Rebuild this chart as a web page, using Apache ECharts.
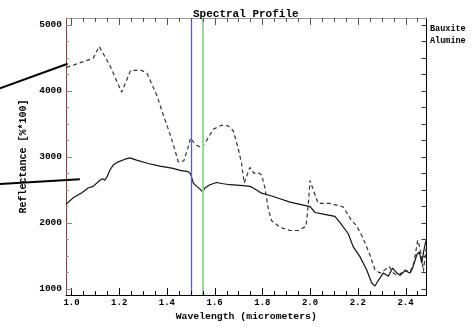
<!DOCTYPE html>
<html><head><meta charset="utf-8">
<script src="https://cdn.jsdelivr.net/npm/echarts@6/dist/echarts.min.js"></script>
<style>html,body{margin:0;padding:0;background:#fff}#c{width:472px;height:327px}</style>
</head><body><div id="c"></div>
<script>
// ---- data ----
const bauxiteW = [0.977,1.007,1.042,1.070,1.091,1.119,1.130,1.140,1.150,1.161,1.175,1.196,1.224,1.245,1.273,1.322,1.371,1.426,1.455,1.489,1.499,1.510,1.525,1.541,1.550,1.559,1.580,1.608,1.636,1.664,1.720,1.748,1.762,1.797,1.832,1.874,1.916,1.958,2.000,2.021,2.055,2.104,2.125,2.160,2.181,2.209,2.237,2.258,2.272,2.286,2.307,2.328,2.346,2.363,2.377,2.398,2.419,2.430,2.447,2.458,2.468,2.478,2.486];
const bauxiteV = [2276,2374,2449,2523,2548,2640,2665,2640,2700,2796,2871,2920,2960,2979,2945,2895,2856,2820,2790,2771,2740,2600,2548,2499,2459,2523,2573,2607,2588,2573,2558,2548,2523,2445,2409,2360,2310,2276,2241,2152,2127,2092,2003,1830,1631,1483,1285,1087,1037,1122,1236,1186,1310,1236,1200,1270,1236,1310,1508,1557,1384,1600,1731];

const alumineW = [0.979,1.091,1.116,1.161,1.210,1.248,1.294,1.317,1.357,1.384,1.413,1.436,1.447,1.471,1.489,1.499,1.517,1.545,1.566,1.594,1.629,1.657,1.678,1.699,1.713,1.724,1.741,1.748,1.765,1.783,1.797,1.811,1.825,1.839,1.874,1.916,1.951,1.983,1.992,2.000,2.013,2.034,2.083,2.139,2.174,2.195,2.223,2.251,2.272,2.293,2.314,2.332,2.349,2.363,2.377,2.398,2.419,2.436,2.451,2.461,2.468,2.475,2.486];
const alumineV = [4350,4490,4669,4380,3975,4306,4306,4257,3935,3637,3340,3068,2920,2934,3142,3281,3192,3128,3242,3414,3474,3465,3391,3118,2895,2597,2771,2835,2746,2756,2722,2523,2202,2028,1928,1879,1879,1943,2251,2637,2499,2291,2291,2236,2028,1954,1756,1508,1285,1236,1285,1334,1236,1200,1220,1280,1250,1400,1731,1607,1459,1260,1600];

const seriesNames = ['Bauxite', 'Alumine'];
const markerWavelengths = [1.50, 1.55];

const xMajor = [1.0, 1.2, 1.4, 1.6, 1.8, 2.0, 2.2, 2.4];
const xMinor = [1.05,1.1,1.15,1.25,1.3,1.35,1.45,1.5,1.55,1.65,1.7,1.75,1.85,1.9,1.95,2.05,2.1,2.15,2.25,2.3,2.35,2.45];
const yMajor = [1000, 2000, 3000, 4000, 5000];
const yMinor = [1250,1500,1750,2250,2500,2750,3250,3500,3750,4250,4500,4750];
const yRight = [1000,1250,1500,1750,2000,2250,2500,2750,3000,3250,3500,3750,4000,4250,4500,4750,5000];

// annotation pointer lines (data coordinates)
const pointer1W = [0.70, 0.984], pointer1V = [4034, 4406];
const pointer2W = [0.70, 1.035], pointer2V = [2582, 2657];

const X_MIN = 0.977, X_MAX = 2.488, Y_MIN = 900, Y_MAX = 5100;

const zip = (a, b) => a.map((v, i) => [v, b[i]]);
const FONT = 'Liberation Mono';

const chart = echarts.init(document.getElementById('c'), null, {renderer: 'canvas'});

const baseX = (pos, lineColor) => ({
  type: 'value', position: pos, min: X_MIN, max: X_MAX,
  splitLine: {show: false}, axisTick: {show: false},
  axisLine: {show: true, onZero: false, lineStyle: {color: lineColor, width: 1}},
  axisLabel: {show: false}
});
const baseY = (pos, lineColor) => ({
  type: 'value', position: pos, min: Y_MIN, max: Y_MAX,
  splitLine: {show: false}, axisTick: {show: false},
  axisLine: {show: true, onZero: false, lineStyle: {color: lineColor, width: 1}},
  axisLabel: {show: false}
});

const xBottom = Object.assign(baseX('bottom', '#000'), {
  axisLabel: {show: true, customValues: xMajor, margin: 3, color: '#000', fontFamily: FONT, fontWeight: 'bold', fontSize: 9,
    formatter: v => Number(v).toFixed(1)},
  name: 'Wavelength (micrometers)', nameLocation: 'middle', nameGap: 11,
  nameTextStyle: {color: '#000', fontFamily: FONT, fontWeight: 'bold', fontSize: 9.8}
});
const yLeft = Object.assign(baseY('left', '#8e3b3b'), {
  axisLabel: {show: true, customValues: yMajor, margin: 4, color: '#000', fontFamily: FONT, fontWeight: 'bold', fontSize: 9.5,
    formatter: v => String(Math.round(v))},
  name: 'Reflectance [%*100]', nameLocation: 'middle', nameGap: 20,
  nameTextStyle: {color: '#000', fontFamily: FONT, fontWeight: 'bold', fontSize: 10}
});

chart.setOption({
  animation: false,
  backgroundColor: '#fff',
  title: {text: 'Spectral Profile', left: 188, top: 4,
    textStyle: {fontFamily: FONT, fontWeight: 'bold', fontSize: 11, color: '#000'}},
  legend: {data: seriesNames, orient: 'vertical', left: 420, top: 19, icon: 'none', itemWidth: 0, itemHeight: 9, itemGap: 3.5,
    textStyle: {fontFamily: FONT, fontWeight: 'bold', fontSize: 8.5, color: '#000'}, selectedMode: false},
  grid: {left: 66, right: 45.5, top: 18, bottom: 26, containLabel: false},
  xAxis: [xBottom, baseX('top', '#999')],
  yAxis: [yLeft, baseY('right', '#000')],
  series: [
    {name: seriesNames[0], type: 'line', data: zip(bauxiteW, bauxiteV), showSymbol: false, symbol: 'none',
      lineStyle: {color: '#111', width: 1.2}, itemStyle: {color: '#111'},
      markLine: {silent: true, symbol: 'none', label: {show: false},
        data: [
          {xAxis: markerWavelengths[0], lineStyle: {color: '#5c5cc0', width: 1.3, type: 'solid'}},
          {xAxis: markerWavelengths[1], lineStyle: {color: '#9ad89a', width: 2, type: 'solid'}}
        ]}},
    {name: seriesNames[1], type: 'line', data: zip(alumineW, alumineV), showSymbol: false, symbol: 'none',
      lineStyle: {color: '#333', width: 1.2, type: [4, 3]}, itemStyle: {color: '#333'}}
  ]
});

// ---- tick marks and pointer lines, placed through the axes' own scales ----
const px = v => chart.convertToPixel({xAxisIndex: 0}, v);
const py = v => chart.convertToPixel({yAxisIndex: 0}, v);
const xL = px(X_MIN), xR = px(X_MAX), yB = py(Y_MIN), yT = py(Y_MAX);
const g = [];
const seg = (x1, y1, x2, y2, color, w) => g.push({type: 'line', silent: true, z: 100,
  shape: {x1, y1, x2, y2}, style: {stroke: color, lineWidth: w || 1}});
xMajor.forEach(v => { const x = Math.round(px(v)) + 0.5; seg(x, yB, x, yB - 7, '#000'); seg(x, yT, x, yT + 7, '#555'); });
xMinor.forEach(v => { const x = Math.round(px(v)) + 0.5; seg(x, yB, x, yB - 4, '#000'); seg(x, yT, x, yT + 4, '#555'); });
yMajor.forEach(v => { const y = Math.round(py(v)) + 0.5; seg(xL, y, xL + 6, y, '#888'); });
yMinor.forEach(v => { const y = Math.round(py(v)) + 0.5; seg(xL, y, xL + 3, y, '#999'); });
yRight.forEach(v => { const y = Math.round(py(v)) + 0.5; seg(xR, y, xR - 5, y, '#333'); });
[[pointer1W, pointer1V], [pointer2W, pointer2V]].forEach(([w, r]) => {
  seg(px(w[0]), py(r[0]), px(w[1]), py(r[1]), '#000', 2);
});
chart.setOption({graphic: g});
</script></body></html>
